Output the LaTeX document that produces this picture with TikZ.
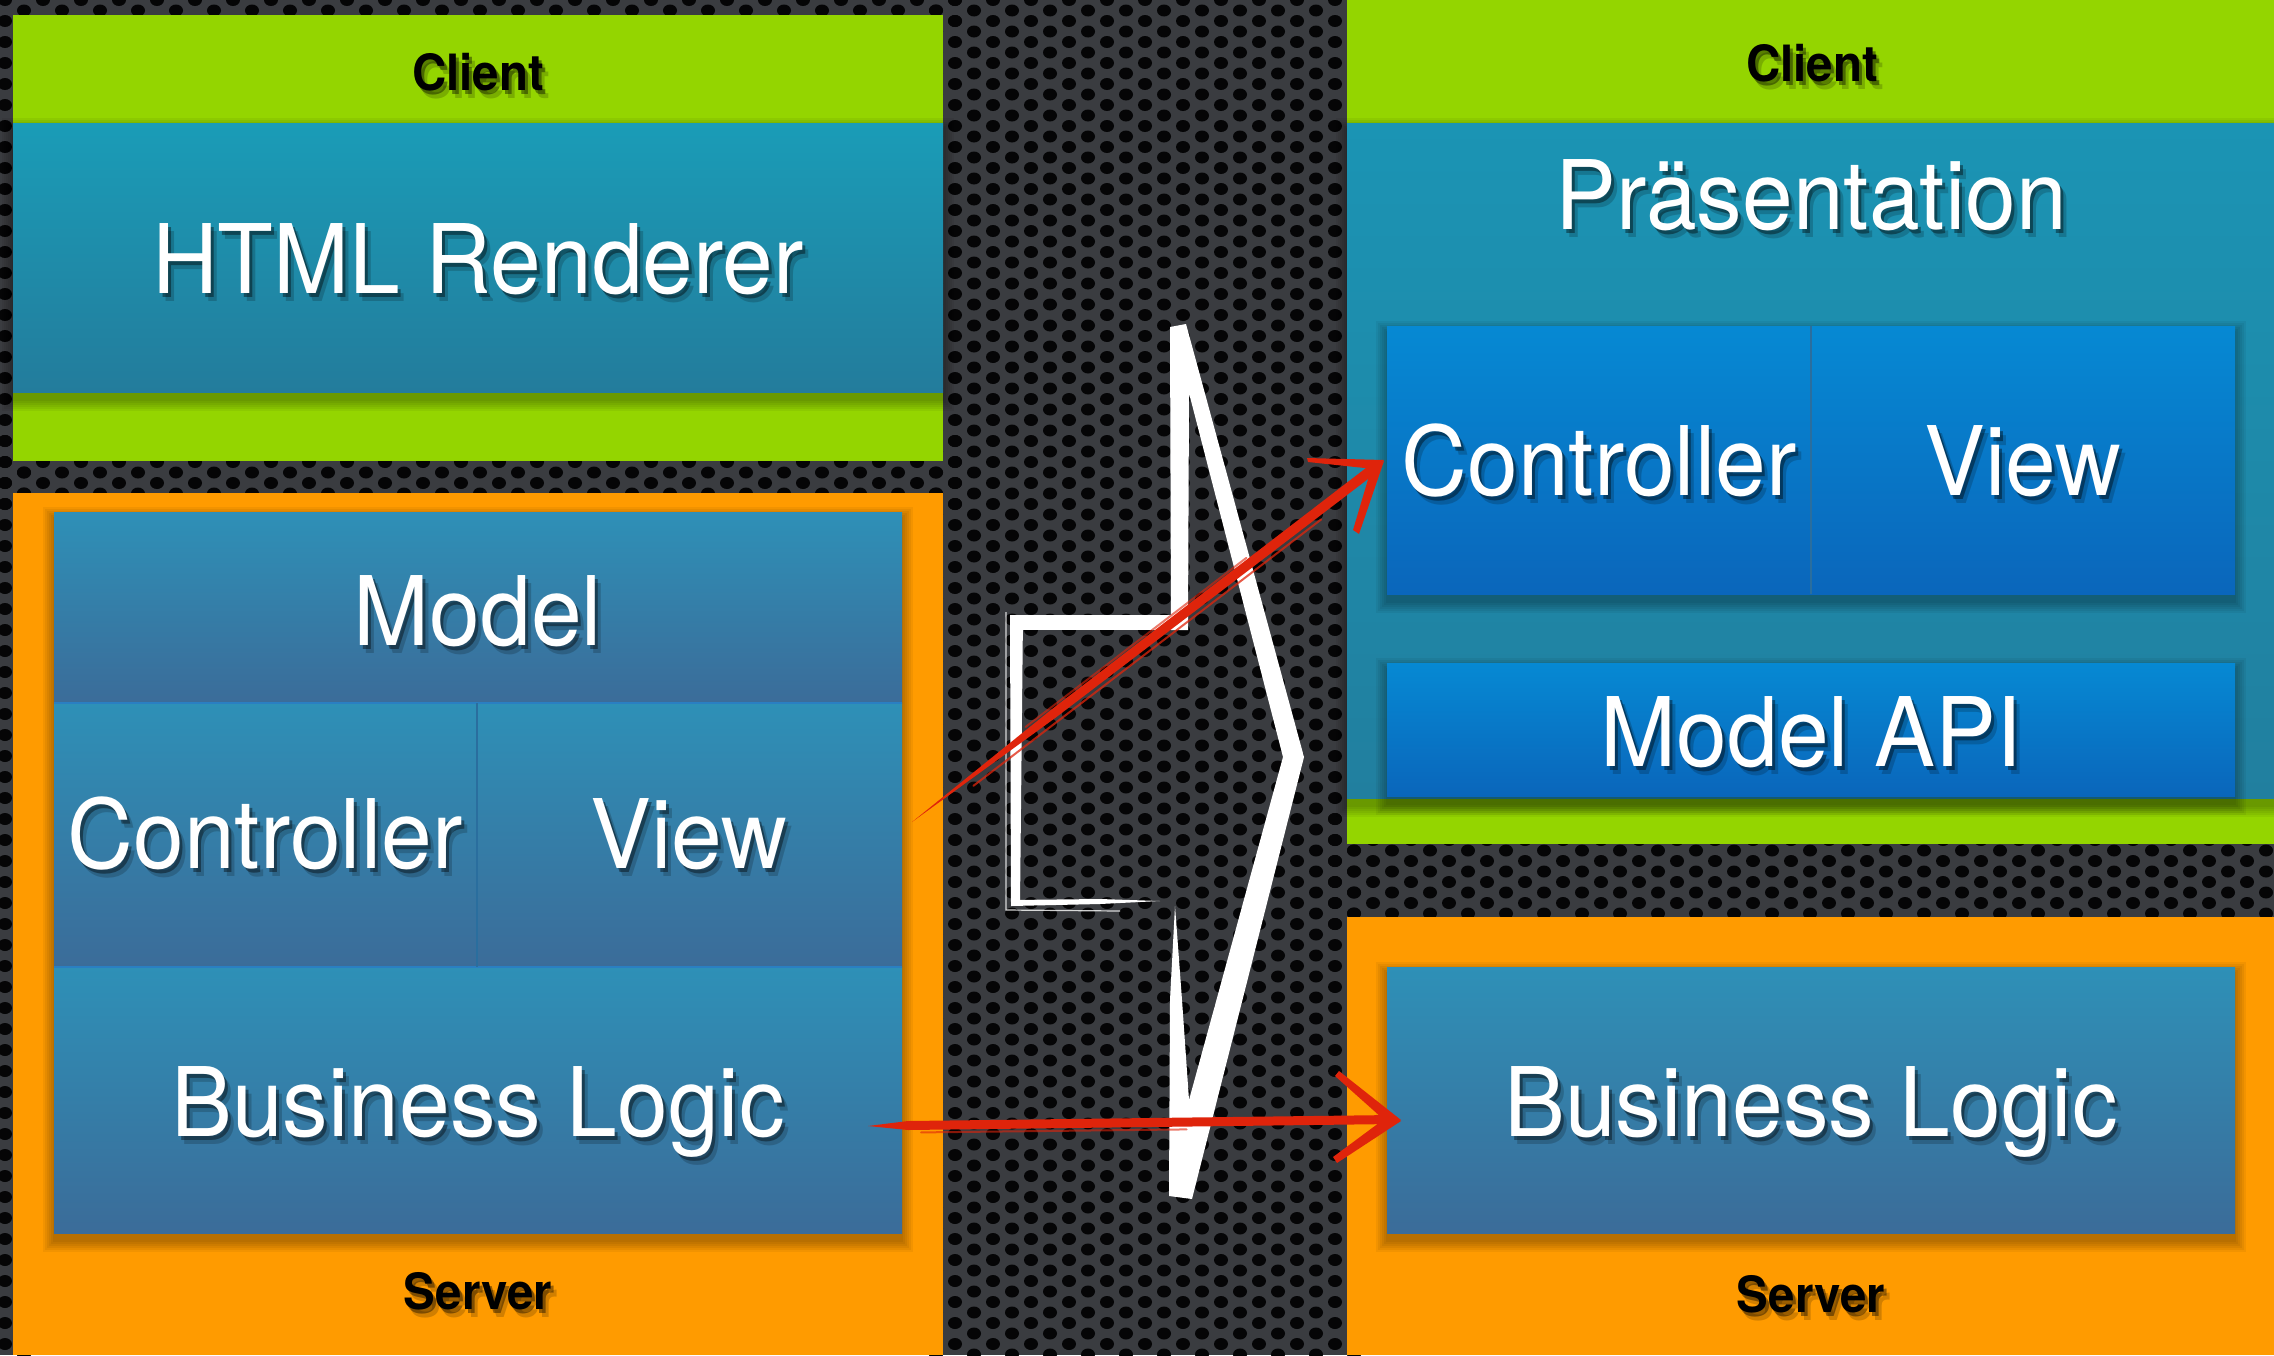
\documentclass[tikz,border=0pt]{standalone}
\usepackage{fontspec}
\newfontfamily\hv[FakeStretch=0.95]{TeX Gyre Heros}
\usetikzlibrary{calc}

\definecolor{metal}{HTML}{3A3C40}
\definecolor{holeblack}{HTML}{050506}
\definecolor{limeg}{HTML}{94D500}
\definecolor{tealtop}{HTML}{1A9CB7}
\definecolor{tealbot}{HTML}{237C9C}
\definecolor{prestop}{HTML}{1B94B4}
\definecolor{presbot}{HTML}{217F9F}
\definecolor{steeltop}{HTML}{2E90B7}
\definecolor{steelbot}{HTML}{3B6C99}
\definecolor{brighttop}{HTML}{0689D3}
\definecolor{brightbot}{HTML}{0A66BB}
\definecolor{orangebox}{HTML}{FF9B00}
\definecolor{inkred}{HTML}{DF240B}
\definecolor{seam}{HTML}{2A7FC2}
\definecolor{seamdark}{HTML}{2A6E9E}

% perforated metal: staggered holes on a 19 x 21 grid (column and row index ranges)
\newcommand\holes[4]{%
  \foreach \i in {#1,...,#2}{%
    \foreach \j in {#3,...,#4}{%
      \pgfmathsetmacro\hx{\i*19+5}%
      \pgfmathsetmacro\hy{\j*21+mod(\i,2)*10.5}%
      \fill[hole] (\hx,\hy) ellipse (7pt and 6pt);
    }}}

% blurred shadow under a rectangle
\newcommand\softshadow[4]{%
  \foreach \k in {1,...,6}{%
    \fill[black,opacity=.05] (#1-2*\k+1,#2-2*\k+7) rectangle (#3+2*\k-1,#4+2*\k+7);}}

% label with a soft dark shadow: style, name, x, y, text
\newcommand\shadowed[5]{%
  \node[#1, text=black, opacity=.40] at (#3+3,#4+4) {#5};
  \node[#1, text=black, opacity=.18] at (#3+6,#4+8) {#5};
  \node[#1] (#2) at (#3,#4) {#5};}

\tikzset{
  big/.style={font=\hv\fontsize{96}{100}\selectfont, text=white, inner sep=0pt, anchor=base},
  tag/.style={font=\hv\bfseries\fontsize{50}{56}\selectfont, text=black, inner sep=0pt, anchor=base},
  hole/.style={fill=holeblack},
  ink/.style={fill=inkred},
  chalk/.style={fill=white},
  streak/.style={draw=inkred, line width=2pt, line cap=round},
}

\begin{document}
\begin{tikzpicture}[x=1pt,y=-1pt]
\useasboundingbox (0,0) rectangle (2274,1355);

% ---- background plate ----
\fill[metal] (0,0) rectangle (2274,1355);
\holes{49}{71}{0}{65}
\holes{0}{50}{21}{24}
\holes{70}{120}{39}{44}
\holes{0}{1}{0}{65}
\holes{2}{50}{0}{1}

% ---- left: client ----
\fill[limeg] (13,15) rectangle (943,461);
\softshadow{13}{123}{943}{392}
\shade[top color=tealtop, bottom color=tealbot] (13,123) rectangle (943,392);
\shadowed{tag}{clientL}{478}{90}{Client}
\shadowed{big}{renderer}{478}{293}{HTML Renderer}

% ---- left: server ----
\fill[orangebox] (13,493) rectangle (943,1355);
\softshadow{54}{512}{902}{1233}
\shade[top color=steeltop, bottom color=steelbot] (54,512) rectangle (902,703);
\shade[top color=steeltop, bottom color=steelbot] (54,703) rectangle (477,967);
\shade[top color=steeltop, bottom color=steelbot] (477,703) rectangle (902,967);
\shade[top color=steeltop, bottom color=steelbot] (54,967) rectangle (902,1233);
\draw[seam, line width=1.5pt] (54,703) -- (902,703);
\draw[seam, line width=1.5pt] (54,967) -- (902,967);
\draw[seamdark, line width=1.5pt] (477,703) -- (477,967);
\shadowed{big}{modelL}{478}{645}{Model}
\shadowed{big}{ctrlL}{265}{868}{Controller}
\shadowed{big}{viewL}{689}{868}{View}
\shadowed{big}{logicL}{478}{1136}{Business Logic}
\shadowed{tag}{serverL}{478}{1309}{Server}

% ---- right: client ----
\fill[limeg] (1347,0) rectangle (2274,844);
\softshadow{1347}{123}{2274}{798}
\shade[top color=prestop, bottom color=presbot] (1347,123) rectangle (2274,798);
\softshadow{1387}{326}{2235}{594}
\shade[top color=brighttop, bottom color=brightbot] (1387,326) rectangle (1811,594);
\shade[top color=brighttop, bottom color=brightbot] (1811,326) rectangle (2235,594);
\draw[seamdark, line width=1.5pt] (1811,326) -- (1811,594);
\softshadow{1387}{663}{2235}{796}
\shade[top color=brighttop, bottom color=brightbot] (1387,663) rectangle (2235,796);
\shadowed{tag}{clientR}{1812}{81}{Client}
\shadowed{big}{presentation}{1811}{229}{Präsentation}
\shadowed{big}{ctrlR}{1599}{495}{Controller}
\shadowed{big}{viewR}{2023}{495}{View}
\shadowed{big}{modelapi}{1811}{766}{Model API}

% ---- right: server ----
\fill[orangebox] (1347,917) rectangle (2274,1355);
\softshadow{1387}{967}{2235}{1233}
\shade[top color=steeltop, bottom color=steelbot] (1387,967) rectangle (2235,1233);
\shadowed{big}{logicR}{1811}{1136}{Business Logic}
\shadowed{tag}{serverR}{1811}{1312}{Server}

% ---- white block arrow, drawn as a chalk outline ----
\fill[chalk] (1170,327) -- (1186,324) -- (1304,757) -- (1192,1199) -- (1169,1196)
  -- (1170,1000) -- (1175,906) -- (1182,1000) -- (1189,1100) -- (1283,757)
  -- (1189,393) -- (1188,630) -- (1171,630) -- cycle;
\fill[chalk] (1010,615) rectangle (1188,630);
\fill[chalk] (1010,615) -- (1023,615) -- (1020,904) -- (1011,906) -- cycle;
\fill[chalk] (1011,900) -- (1100,899) -- (1160,901) -- (1100,904) -- (1011,906) -- cycle;
\draw[white, line width=1.2pt, opacity=.8] (1006,612) -- (1006,910) -- (1120,911);

% ---- red ink arrows ----
\coordinate (s1) at (912,822);
\coordinate (t1) at (1382,462);
\coordinate (m1) at ($(s1)!0.3!(t1)$);
\fill[ink] (s1) -- ($(m1)+(-2.7,-3.6)$) -- ($(t1)+(-9.4,0.9)$) -- ($(t1)+(-3.4,8.9)$)
  -- ($(m1)+(2.7,3.6)$) -- cycle;
\draw[streak, opacity=.75] ($(s1)!0.12!(t1)+(5,7)$) -- ($(s1)!0.86!(t1)+(5,7)$);
\draw[streak, opacity=.6] ($(s1)!0.25!(t1)+(-4,-5)$) -- ($(s1)!0.72!(t1)+(-4,-5)$);
\fill[ink] ($(t1)+(2,-2)$) -- ($(t1)+(-75,-4)$) -- ($(t1)+(-74,0)$) -- ($(t1)+(-8,7)$) -- cycle;
\fill[ink] ($(t1)+(2,-1)$) -- ($(t1)+(-23,72)$) -- ($(t1)+(-29,68)$) -- ($(t1)+(-10,4)$) -- cycle;

\coordinate (s2) at (868,1126);
\coordinate (t2) at (1399,1120);
\fill[ink] (s2) -- ($(s2)+(40,-5)$) -- ($(t2)+(-6,-5)$) -- ($(t2)+(-6,4)$) -- ($(s2)+(40,4)$) -- cycle;
\draw[streak, opacity=.6] ($(s2)!0.1!(t2)+(0,7)$) -- ($(s2)!0.6!(t2)+(0,7)$);
\fill[ink] ($(t2)+(2,0)$) -- ($(t2)+(-60,-49)$) -- ($(t2)+(-64,-44)$) -- ($(t2)+(-8,6)$) -- cycle;
\fill[ink] ($(t2)+(2,1)$) -- ($(t2)+(-62,43)$) -- ($(t2)+(-66,37)$) -- ($(t2)+(-8,-6)$) -- cycle;
\end{tikzpicture}
\end{document}
